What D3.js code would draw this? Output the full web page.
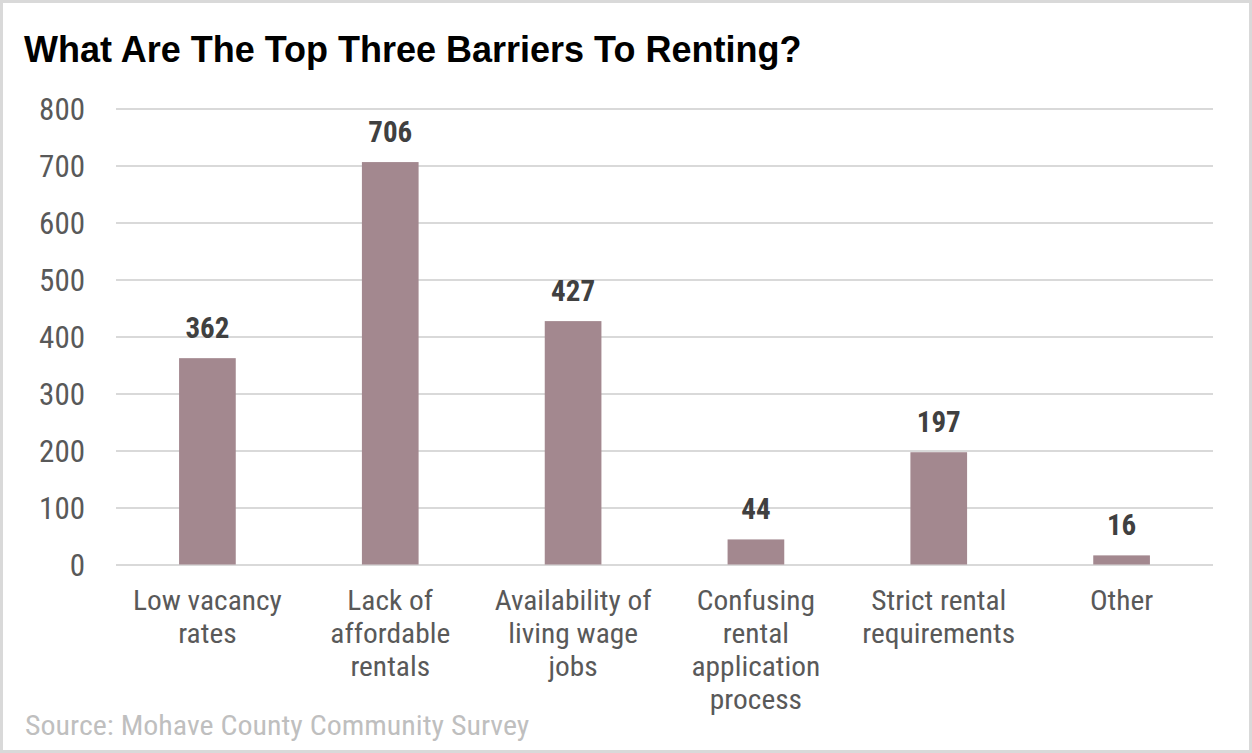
<!DOCTYPE html>
<html><head><meta charset="utf-8">
<script src="https://cdn.jsdelivr.net/npm/d3@7"></script>
<style>
html,body{margin:0;padding:0;background:#fff;}
svg{display:block;}
.narrow{font-family:"Liberation Sans Narrow","Arial Narrow","Roboto Condensed",sans-serif;}
</style>
</head><body>
<svg id="chart" width="1252" height="753"></svg>
<script>
const title = "What Are The Top Three Barriers To Renting?";
const source = "Source: Mohave County Community Survey";
const categories = [
  ["Low vacancy","rates"],
  ["Lack of","affordable","rentals"],
  ["Availability of","living wage","jobs"],
  ["Confusing","rental","application","process"],
  ["Strict rental","requirements"],
  ["Other"]
];
const values = [362, 706, 427, 44, 197, 16];
const yTicks = [0,100,200,300,400,500,600,700,800];

(function(){
const W = 1252, H = 753;
const pL = 116, pR = 1213, pT = 108.5, pB = 564.5;
const sx = 1.09;
const svg = d3.select("#chart");

svg.append("rect").attr("x",1.5).attr("y",1.5).attr("width",W-3).attr("height",H-3)
  .attr("fill","#fff").attr("stroke","#d9d9d9").attr("stroke-width",3);

const idx = categories.map((d,i)=>i);
const x = d3.scaleBand().domain(idx).range([pL,pR]).paddingInner(0.69).paddingOuter(0.345);
const y = d3.scaleLinear().domain([0,800]).range([pB,pT]);

const yAxis = d3.axisLeft(y).tickValues(yTicks).tickSize(-(pR-pL)).tickFormat(d=>d).tickPadding(31);
const gy = svg.append("g").attr("transform",`translate(${pL},0)`).call(yAxis);
gy.select(".domain").remove();
gy.selectAll(".tick line").attr("stroke","#d9d9d9").attr("stroke-width",2);
gy.selectAll(".tick text").attr("class","narrow").attr("font-size",31).attr("fill","#595959").attr("dy","0.36em");

svg.append("g").selectAll("rect").data(values).join("rect")
  .attr("x",(d,i)=>x(i)).attr("width",x.bandwidth())
  .attr("y",d=>y(d)).attr("height",d=>y(0)-y(d))
  .attr("fill","#a3888f");

svg.append("g").selectAll("text").data(values).join("text")
  .attr("class","narrow")
  .attr("x",(d,i)=>x(i)+x.bandwidth()/2).attr("y",d=>y(d)-20)
  .attr("text-anchor","middle").attr("font-size",29).attr("font-weight","bold")
  .attr("fill","#404040").text(d=>d);

const gx = svg.append("g");
categories.forEach((lines,i)=>{
  const cx = x(i)+x.bandwidth()/2;
  const t = gx.append("text").attr("class","narrow")
    .attr("transform",`translate(${cx},0) scale(${sx},1)`)
    .attr("text-anchor","middle").attr("font-size",27).attr("fill","#595959");
  lines.forEach((ln,j)=>{
    t.append("tspan").attr("x",0).attr("y",610+j*33).text(ln);
  });
});

svg.append("text").attr("x",24).attr("y",62)
  .attr("font-family","'Liberation Sans',Arial,sans-serif").attr("font-weight","bold")
  .attr("font-size",36).attr("fill","#000").text(title);

svg.append("text").attr("class","narrow")
  .attr("transform",`translate(25,735) scale(${sx+0.02},1)`)
  .attr("font-size",27).attr("fill","#bfbfbf").text(source);
})();
</script>
</body></html>
